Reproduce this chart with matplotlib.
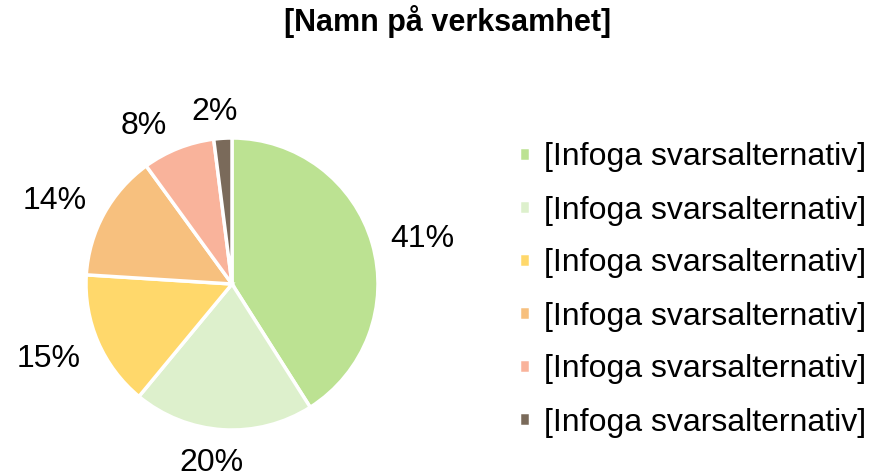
import numpy as np
import matplotlib.pyplot as plt

plt.rcParams['font.family'] = ['Liberation Sans', 'DejaVu Sans']

title = '[Namn på verksamhet]'
labels = ['[Infoga svarsalternativ]'] * 6
shares = [41, 20, 15, 14, 8, 2]
colors = ['#BCE292', '#DDF0CC', '#FFD86B', '#F7C07E', '#F9B39B', '#7A6A5A']
# small angular nudges (deg) so the labels sit where Excel's "best fit" put them
label_nudge = [-2, -3, -2, 3, 7, 2]

W, H = 871, 473
fig = plt.figure(figsize=(W / 100, H / 100), dpi=100)

# pie axes: centre at (232, 284) px from top, radius 146 px
r_px = 146
lim = 1.5
size = 2 * lim * r_px
cx, cy = 232, H - 284
ax = fig.add_axes([(cx - size / 2) / W, (cy - size / 2) / H, size / W, size / H])

wedges, texts = ax.pie(
	shares,
	colors=colors,
	startangle=90,
	counterclock=False,
	labels=[f'{s}%' for s in shares],
	labeldistance=1.28,
	wedgeprops=dict(edgecolor='white', linewidth=2.5),
	textprops=dict(fontsize=23, color='black'),
)
ax.set_xlim(-lim, lim)
ax.set_ylim(-lim, lim)
ax.set_aspect('equal')
ax.axis('off')

# place labels outside the edge with a fixed gap
renderer = fig.canvas.get_renderer()
gap_px = 17
for w, t, nudge in zip(wedges, texts, label_nudge):
	t.set_horizontalalignment('center')
	t.set_verticalalignment('center')
	bb = t.get_window_extent(renderer)
	theta = np.deg2rad((w.theta1 + w.theta2) / 2 + nudge)
	# use roughly the glyph height, not the full line box
	half = abs(np.cos(theta)) * bb.width / 2 + abs(np.sin(theta)) * bb.height * 0.36
	d = (r_px + gap_px + half) / r_px
	# shift down a bit: glyph centre sits above bbox centre
	t.set_position((d * np.cos(theta), d * np.sin(theta) - 3 / r_px))

fig.text(448 / W, 1 - 22 / H, title, fontsize=22, fontweight='bold', ha='center', va='center')

fig.legend(
	wedges, labels,
	loc='center left',
	bbox_to_anchor=(519 / W, 1 - 290 / H),
	frameon=False,
	fontsize=23,
	handlelength=0.33,
	handleheight=0.33,
	handletextpad=0.45,
	labelspacing=0.72,
	borderpad=0,
	borderaxespad=0,
)

fig.savefig('out.png', dpi=100)
